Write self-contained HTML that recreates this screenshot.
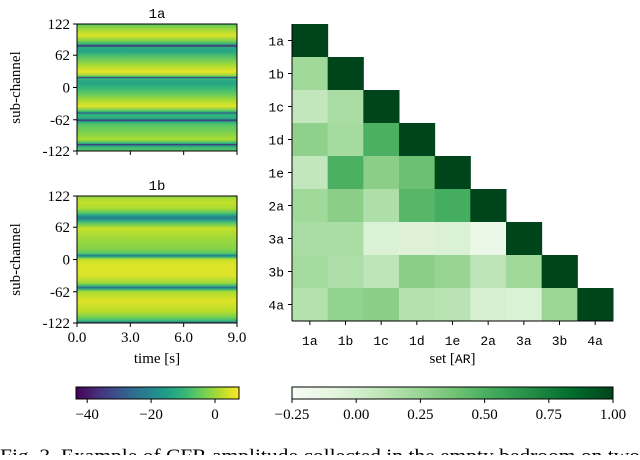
<!DOCTYPE html>
<html><head><meta charset="utf-8"><style>
body{margin:0;background:#fff;}
svg text{font-family:"Liberation Serif",serif;fill:#000;}
.mono{font-family:"Liberation Mono",monospace;}
</style></head><body>
<svg id="chart" width="640" height="455" viewBox="0 0 640 455" xmlns="http://www.w3.org/2000/svg">
<defs id="defs"></defs>
<g id="g"></g>
<text x="0" y="462" font-size="19" textLength="640" lengthAdjust="spacingAndGlyphs">Fig. 3.  Example of CFR amplitude collected in the empty bedroom on two</text>
</svg>
<script>
// CFR stripe profiles: sub-channel positions and amplitude (dB)
const subA=[122,112,100,90,83,80,77,70,58,42,30,22,21,19,17,10,0,-12,-25,-36,-44,-47,-49,-51,-56,-60,-63,-66,-72,-85,-100,-106,-108,-110,-112,-116,-122];
const valA=[-6,0,5,-2,-12,-38,-12,-14,-6,1,6,-2,-10,-36,-10,-14,-10,-5,1,5,-4,-12,-30,-12,-10,-14,-36,-12,-6,-3,1,-8,-14,-38,-14,-8,-6];
const subB=[122,110,98,88,84,80,76,70,60,40,20,12,9,7,5,0,-10,-30,-45,-51,-54,-57,-62,-80,-100,-112,-118,-122];
const valB=[-1,3,1,-8,-16,-22,-16,-6,3,0,-2,-6,-14,-24,-10,3,5,5,0,-10,-26,-10,1,5,2,-4,-10,-30];
const timeTicks=[0,3,6,9];
const subTicks=[122,62,0,-62,-122];
// correlation matrix (lower triangle)
const sets=["1a","1b","1c","1d","1e","2a","3a","3b","4a"];
const corr=[
[1],
[0.22,1],
[0.08,0.18,1],
[0.28,0.20,0.50,1],
[0.08,0.50,0.30,0.40,1],
[0.22,0.30,0.16,0.46,0.52,1],
[0.18,0.18,-0.04,-0.06,-0.04,-0.15,1],
[0.20,0.17,0.10,0.30,0.25,0.10,0.22,1],
[0.14,0.27,0.30,0.14,0.12,-0.02,-0.04,0.24,1]];
const cbLeftTicks=[-40,-20,0];
const cbRightTicks=[-0.25,0,0.25,0.5,0.75,1];

const NS="http://www.w3.org/2000/svg";
const g=document.getElementById('g'),defs=document.getElementById('defs');
function el(t,a,p){const e=document.createElementNS(NS,t);for(const k in a)e.setAttribute(k,a[k]);(p||g).appendChild(e);return e;}
function lerpC(stops,t){t=Math.max(0,Math.min(1,t));const n=stops.length-1;const i=Math.min(n-1,Math.floor(t*n));const f=t*n-i;
 const a=stops[i],b=stops[i+1];const h=s=>[1,3,5].map(j=>parseInt(s.substr(j,2),16));const A=h(a),B=h(b);
 return 'rgb('+A.map((v,k)=>Math.round(v+(B[k]-v)*f)).join(',')+')';}
const viridis=["#440154","#482878","#3e4989","#31688e","#26828e","#1f9e89","#35b779","#6ece58","#b5de2b","#fde725"];
const greens=["#f7fcf5","#e5f5e0","#c7e9c0","#a1d99b","#74c476","#41ab5d","#238b45","#006d2c","#00441b"];
const vmin=-43.5,vmax=7.5;
const vir=v=>lerpC(viridis,(v-vmin)/(vmax-vmin));
const grn=v=>lerpC(greens,(v+0.25)/1.25);

function panel(id,title,top,subs,vals,showX){
 const L=77,R=237,T=top,B=top+127;
 const ys=s=>T+(122-s)/244*(B-T);
 const gr=el('linearGradient',{id:'grad'+id,x1:0,y1:0,x2:0,y2:1},defs);
 subs.forEach((s,i)=>{el('stop',{offset:((122-s)/244).toFixed(4),'stop-color':vir(vals[i])},gr);});
 const r=el('rect',{x:L,y:T,width:R-L,height:B-T,fill:'url(#grad'+id+')',stroke:'#000','stroke-width':1});
 
 
 const t=el('text',{x:(L+R)/2,y:T-6,'font-size':14,'text-anchor':'middle',class:'mono'});t.textContent=title;
 
 
 subTicks.forEach(s=>{const y=ys(s);el('line',{x1:L-4,x2:L,y1:y,y2:y,stroke:'#000'});
  const tx=el('text',{x:L-7,y:y+5,'font-size':15,'text-anchor':'end'});tx.textContent=s;
  
  });
 const xs=v=>L+v/9*(R-L);
 timeTicks.forEach(v=>{const x=xs(v);el('line',{x1:x,x2:x,y1:B,y2:B+4,stroke:'#000'});
  if(showX){const tx=el('text',{x:x,y:B+19,'font-size':15,'text-anchor':'middle'});tx.textContent=v.toFixed(1);
  
  }});
 const yl=el('text',{x:0,y:0,'font-size':15,'text-anchor':'middle',transform:'translate(20,'+((T+B)/2)+') rotate(-90)'});yl.textContent='sub-channel';
 
 
}
panel('1a','1a',24,subA,valA,false);
panel('1b','1b',196,subB,valB,true);
const xt=el('text',{x:157,y:363,'font-size':15,'text-anchor':'middle'});xt.textContent='time [s]';



// correlation heatmap
const HL=292,HR=613,HT=24,HB=321;
const cw=(HR-HL)/sets.length,ch=(HB-HT)/sets.length;
corr.forEach((row,i)=>row.forEach((v,j)=>{
 const c=el('rect',{x:HL+j*cw,y:HT+i*ch,width:cw+0.5,height:ch+0.5,fill:grn(v)});
 
 
}));
el('line',{x1:HL,x2:HL,y1:HT,y2:HB,stroke:'#000'});
el('line',{x1:HL,x2:HR,y1:HB,y2:HB,stroke:'#000'});
sets.forEach((s,i)=>{
 const y=HT+(i+0.5)*ch;el('line',{x1:HL-4,x2:HL,y1:y,y2:y,stroke:'#000'});
 const a=el('text',{x:HL-8,y:y+5,'font-size':13,'text-anchor':'end',class:'mono'});a.textContent=s;
 
 
 const x=HL+(i+0.5)*cw;el('line',{x1:x,x2:x,y1:HB,y2:HB+4,stroke:'#000'});
 const b=el('text',{x:x,y:HB+24,'font-size':13,'text-anchor':'middle',class:'mono'});b.textContent=s;
 
 
});
const st=el('text',{x:(HL+HR)/2,y:363,'font-size':15,'text-anchor':'middle'});
st.innerHTML='set [<tspan class="mono" font-size="13">AR</tspan>]';



// colorbars
function cbar(id,L,R,lo,hi,cmap,ticks,fmt){
 const T=387,B=399;
 const gr=el('linearGradient',{id:'cb'+id,x1:0,y1:0,x2:1,y2:0},defs);
 for(let k=0;k<=20;k++){const v=lo+(hi-lo)*k/20;el('stop',{offset:k/20,'stop-color':cmap(v)},gr);}
 const r=el('rect',{x:L,y:T,width:R-L,height:B-T,fill:'url(#cb'+id+')',stroke:'#000'});
 
 
 ticks.forEach(v=>{const x=L+(v-lo)/(hi-lo)*(R-L);el('line',{x1:x,x2:x,y1:B,y2:B+4,stroke:'#000'});
  const t=el('text',{x:x,y:B+20,'font-size':15,'text-anchor':'middle'});t.textContent=fmt(v);
  
  });
}
cbar('amplitude',76,239,vmin,vmax,vir,cbLeftTicks,v=>v<0?'\u2212'+(-v):String(v));
cbar('correlation',292,613,-0.25,1,grn,cbRightTicks,v=>v<0?'\u2212'+(-v).toFixed(2):v.toFixed(2));
</script>
</body></html>
